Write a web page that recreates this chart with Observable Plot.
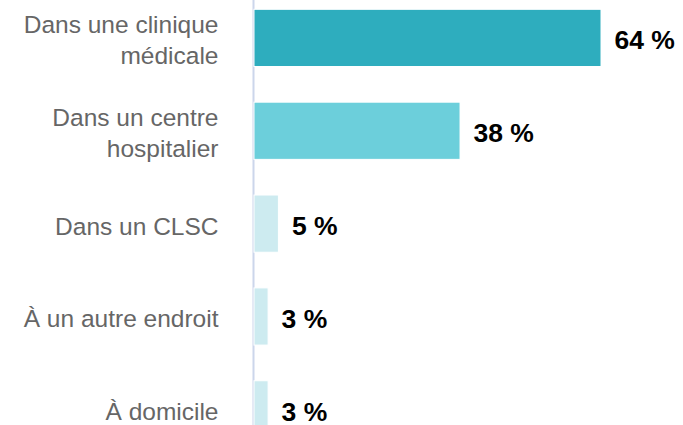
<!DOCTYPE html>
<html>
<head>
<meta charset="utf-8">
<script src="https://cdn.jsdelivr.net/npm/d3@7"></script>
<script src="https://cdn.jsdelivr.net/npm/@observablehq/plot@0.6"></script>
<style>
  html, body { margin: 0; padding: 0; background: #fff; }
  #chart { width: 683px; height: 425px; overflow: hidden; }
</style>
</head>
<body>
<div id="chart"></div>
<script>
const categories = [
  "Dans une clinique\nmédicale",
  "Dans un centre\nhospitalier",
  "Dans un CLSC",
  "À un autre endroit",
  "À domicile"
];
const values = [64, 38, 4.5, 2.6, 2.6];
const valueLabels = ["64 %", "38 %", "5 %", "3 %", "3 %"];
const barColors = ["#2eadbe", "#6ccfdb", "#cdebf0", "#cdebf0", "#cdebf0"];

const data = categories.map((c, i) => ({cat: c, value: values[i], label: valueLabels[i]}));

const chart = Plot.plot({
  width: 683,
  height: 425,
  marginLeft: 254,
  marginRight: 82,
  marginTop: 0,
  marginBottom: 0,
  style: {fontFamily: "'Liberation Sans', Arial, sans-serif", background: "#fff"},
  x: {domain: [0, 64], axis: null},
  y: {domain: categories, range: [-26.35, 473.6], paddingInner: 0.384, paddingOuter: 0.384, round: false, axis: null},
  color: {domain: categories, range: barColors},
  marks: [
    Plot.ruleX([0], {stroke: "#ccd6eb", strokeWidth: 2, dx: -1}),
    Plot.barX(data, {y: "cat", x: "value", fill: "cat", stroke: "#fff", strokeWidth: 1}),
    Plot.text(data, {
      y: "cat", x: 0, text: "cat", textAnchor: "end", dx: -36, dy: 0.5,
      fill: "#666666", fontSize: 24.5, lineHeight: 1.27
    }),
    Plot.text(data, {
      y: "cat", x: "value", text: "label", textAnchor: "start", dx: 13, dy: 2.5,
      fill: "#000", fontSize: 26.5, fontWeight: "bold"
    })
  ]
});
document.getElementById("chart").appendChild(chart);
</script>
</body>
</html>
